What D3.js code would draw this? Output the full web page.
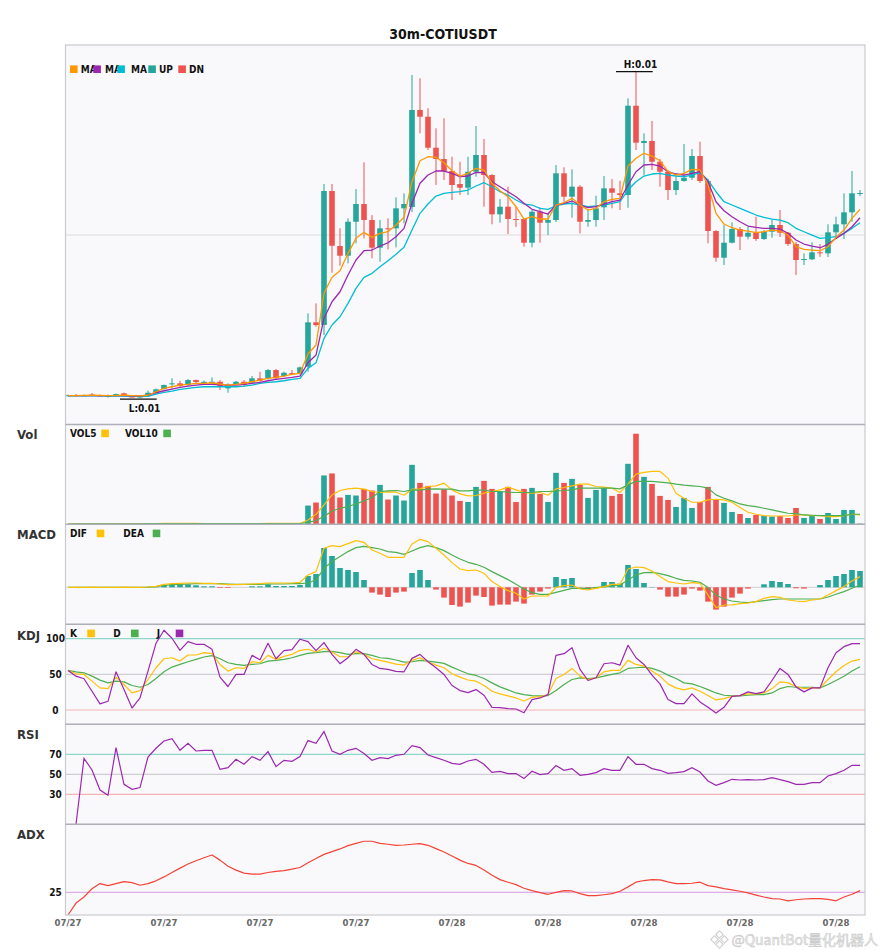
<!DOCTYPE html>
<html><head><meta charset="utf-8">
<script src="https://cdn.jsdelivr.net/npm/d3@7"></script>
<style>
body{margin:0;background:#fff;}
svg{display:block;font-family:"DejaVu Sans Condensed","DejaVu Sans",sans-serif;font-stretch:condensed;}
</style>
</head><body>
<svg id="c" width="885" height="950"></svg>
<script>
// ---------------- data (30m candles, 100 bars) ----------------
const openP = [0.006495,0.006500,0.006495,0.006505,0.006495,0.006483,0.006497,0.006517,0.006485,0.006483,
0.006490,0.006523,0.006560,0.006610,0.006617,0.006600,0.006650,0.006617,0.006617,0.006633,
0.006567,0.006610,0.006633,0.006623,0.006667,0.006667,0.006750,0.006690,0.006720,0.006717,
0.006783,0.007227,0.007200,0.008540,0.007990,0.007893,0.008233,0.008410,0.008250,0.007973,
0.008167,0.008167,0.008367,0.008380,0.009350,0.009283,0.008973,0.008860,0.008740,0.008610,
0.008573,0.008733,0.008900,0.008700,0.008307,0.008383,0.008260,0.008260,0.008023,0.008333,
0.008223,0.008250,0.008717,0.008483,0.008583,0.008233,0.008250,0.008377,0.008567,0.008517,
0.008500,0.009393,0.009020,0.009040,0.008833,0.008733,0.008550,0.008640,0.008673,0.008890,
0.008640,0.008140,0.007873,0.008023,0.008160,0.008083,0.008123,0.008060,0.008133,0.008200,
0.008123,0.008010,0.007850,0.007857,0.007927,0.007917,0.008127,0.008207,0.008327,0.008513];
const highP = [0.006505,0.006510,0.006505,0.006520,0.006505,0.006505,0.006515,0.006525,0.006490,0.006490,
0.006543,0.006565,0.006605,0.006667,0.006643,0.006660,0.006655,0.006645,0.006677,0.006650,
0.006617,0.006640,0.006650,0.006690,0.006733,0.006760,0.006760,0.006733,0.006750,0.006785,
0.007317,0.007417,0.008610,0.008610,0.008167,0.008267,0.008560,0.008827,0.008300,0.008250,
0.008267,0.008477,0.008517,0.009700,0.009667,0.009367,0.009167,0.009267,0.008883,0.008833,
0.008883,0.009190,0.009060,0.008710,0.008460,0.008583,0.008380,0.008270,0.008350,0.008377,
0.008317,0.008800,0.008777,0.008757,0.008600,0.008357,0.008493,0.008690,0.008660,0.008643,
0.009467,0.009733,0.009117,0.009240,0.008860,0.008750,0.008717,0.009010,0.008960,0.009033,
0.008660,0.008150,0.008200,0.008227,0.008180,0.008183,0.008283,0.008150,0.008250,0.008350,
0.008130,0.008030,0.007917,0.008027,0.008010,0.008207,0.008283,0.008517,0.008740,0.008550];
const lowP = [0.006488,0.006490,0.006490,0.006490,0.006490,0.006475,0.006490,0.006490,0.006478,0.006468,
0.006480,0.006515,0.006555,0.006567,0.006583,0.006590,0.006617,0.006610,0.006610,0.006550,
0.006523,0.006600,0.006583,0.006615,0.006633,0.006655,0.006655,0.006683,0.006700,0.006705,
0.006733,0.007183,0.007100,0.007723,0.007793,0.007817,0.008017,0.008067,0.007867,0.007833,
0.007957,0.007977,0.008217,0.008330,0.009117,0.008950,0.008600,0.008650,0.008450,0.008500,
0.008500,0.008683,0.008383,0.008207,0.008223,0.008110,0.008180,0.007983,0.007977,0.008023,
0.008100,0.008230,0.008430,0.008273,0.008117,0.008183,0.008183,0.008250,0.008367,0.008350,
0.008373,0.008950,0.008700,0.008750,0.008583,0.008450,0.008500,0.008633,0.008650,0.008620,
0.008017,0.007833,0.007800,0.008017,0.007950,0.008057,0.008040,0.008050,0.008073,0.008080,
0.007990,0.007700,0.007800,0.007850,0.007880,0.007880,0.008060,0.008060,0.008233,0.008490];
const closeP = [0.006498,0.006495,0.006498,0.006495,0.006493,0.006500,0.006510,0.006497,0.006483,0.006485,
0.006523,0.006557,0.006600,0.006617,0.006590,0.006650,0.006630,0.006633,0.006633,0.006583,
0.006600,0.006633,0.006600,0.006667,0.006643,0.006750,0.006667,0.006723,0.006713,0.006777,
0.007227,0.007200,0.008540,0.007993,0.007893,0.008233,0.008410,0.008250,0.007973,0.008167,
0.008157,0.008367,0.008410,0.009350,0.009283,0.008973,0.008860,0.008740,0.008600,0.008573,
0.008733,0.008900,0.008700,0.008307,0.008383,0.008260,0.008250,0.008023,0.008333,0.008223,
0.008250,0.008717,0.008483,0.008583,0.008233,0.008250,0.008367,0.008567,0.008523,0.008500,
0.009393,0.009023,0.009040,0.008833,0.008733,0.008550,0.008640,0.008673,0.008890,0.008640,
0.008140,0.007873,0.008023,0.008160,0.008083,0.008123,0.008060,0.008133,0.008200,0.008123,
0.008010,0.007850,0.007860,0.007927,0.007917,0.008127,0.008207,0.008327,0.008517,0.008520];

const maFast = [0.006495,0.006495,0.006496,0.006498,0.006497,0.006495,0.006496,0.006499,0.006495,0.006492,
0.006498,0.006533,0.006567,0.006583,0.006600,0.006607,0.006617,0.006617,0.006623,0.006610,
0.006600,0.006607,0.006617,0.006633,0.006650,0.006667,0.006677,0.006690,0.006707,0.006717,
0.006910,0.007000,0.007517,0.007677,0.007743,0.007917,0.008067,0.008127,0.008077,0.008117,
0.008133,0.008200,0.008277,0.008633,0.008843,0.008883,0.008877,0.008823,0.008743,0.008690,
0.008717,0.008767,0.008750,0.008617,0.008543,0.008483,0.008383,0.008260,0.008283,0.008260,
0.008260,0.008400,0.008423,0.008467,0.008400,0.008350,0.008367,0.008433,0.008457,0.008467,
0.008790,0.008867,0.008917,0.008890,0.008843,0.008733,0.008700,0.008717,0.008757,0.008750,
0.008600,0.008317,0.008210,0.008173,0.008150,0.008140,0.008123,0.008133,0.008150,0.008140,
0.008100,0.007983,0.007957,0.007950,0.007943,0.007983,0.008077,0.008150,0.008267,0.008357];
const maMid = [0.006495,0.006494,0.006494,0.006495,0.006495,0.006494,0.006494,0.006495,0.006493,0.006491,
0.006500,0.006523,0.006543,0.006560,0.006577,0.006590,0.006600,0.006607,0.006607,0.006603,
0.006600,0.006600,0.006607,0.006617,0.006627,0.006643,0.006657,0.006667,0.006677,0.006690,
0.006823,0.006900,0.007267,0.007433,0.007533,0.007700,0.007850,0.007943,0.007950,0.007990,
0.008023,0.008083,0.008167,0.008417,0.008617,0.008700,0.008740,0.008740,0.008717,0.008683,
0.008690,0.008727,0.008723,0.008633,0.008583,0.008533,0.008483,0.008417,0.008357,0.008333,
0.008310,0.008400,0.008417,0.008440,0.008400,0.008373,0.008383,0.008410,0.008433,0.008450,
0.008600,0.008733,0.008800,0.008807,0.008790,0.008733,0.008710,0.008700,0.008717,0.008733,
0.008633,0.008433,0.008343,0.008283,0.008233,0.008190,0.008177,0.008167,0.008167,0.008160,
0.008117,0.008050,0.008010,0.007990,0.007973,0.008007,0.008067,0.008117,0.008183,0.008273];
const maSlow = [0.006493,0.006492,0.006491,0.006492,0.006491,0.006490,0.006490,0.006490,0.006488,0.006486,
0.006487,0.006510,0.006527,0.006540,0.006557,0.006567,0.006577,0.006583,0.006583,0.006583,
0.006583,0.006583,0.006590,0.006600,0.006617,0.006627,0.006633,0.006643,0.006657,0.006667,
0.006767,0.006823,0.007067,0.007200,0.007283,0.007417,0.007567,0.007677,0.007717,0.007783,
0.007843,0.007907,0.007977,0.008150,0.008317,0.008410,0.008490,0.008517,0.008527,0.008533,
0.008550,0.008590,0.008623,0.008583,0.008533,0.008500,0.008450,0.008410,0.008400,0.008367,
0.008357,0.008393,0.008410,0.008417,0.008400,0.008383,0.008390,0.008400,0.008417,0.008433,
0.008550,0.008633,0.008690,0.008710,0.008717,0.008700,0.008690,0.008683,0.008700,0.008723,
0.008650,0.008533,0.008433,0.008400,0.008367,0.008333,0.008300,0.008277,0.008260,0.008250,
0.008223,0.008167,0.008133,0.008100,0.008067,0.008073,0.008083,0.008117,0.008167,0.008223];

// volume in thousands
const volume = [30,50,20,60,40,80,50,70,60,40,
120,90,110,100,80,90,60,50,70,90,
80,60,70,90,100,110,90,70,60,100,
1870,2170,4870,5070,2670,2930,2870,3530,3370,3930,
2470,2870,2370,5930,4130,3830,3070,3500,2870,2330,
2230,3730,4330,3530,3270,3730,2230,3530,3630,3030,
2230,5130,4130,4530,3930,2630,3430,3630,2830,3030,
6030,9030,4730,4030,2830,2430,1730,2630,1630,2230,
3730,2430,2130,1230,1030,630,930,830,770,830,
630,1630,630,830,530,1130,530,1430,1430,70];
const vol5 = [30,40,33,40,40,50,50,58,60,60,
66,78,84,94,100,94,88,76,70,72,
70,74,74,78,80,86,92,92,84,86,
430,1000,1930,2930,3370,3530,3600,3500,3270,3170,
3230,3200,2900,3500,3530,3770,3830,4100,3430,3030,
2830,2870,3100,3270,3430,3700,3430,3170,3100,3170,
2900,3530,3670,3830,4000,4000,3770,3700,3600,3170,
4000,5000,5170,5270,5270,4600,3100,2600,2200,2200,
2430,2500,2430,2200,1670,1200,1000,870,830,830,
830,930,930,870,870,770,770,870,1000,930];
const vol10 = [30,40,33,40,40,47,47,50,53,50,
59,63,69,73,77,78,79,77,78,80,
76,73,72,71,73,75,78,80,77,79,
200,380,770,1330,1600,1770,2030,2330,2670,3270,
3330,3370,3270,3430,3400,3500,3530,3500,3500,3330,
3330,3400,3400,3270,3270,3200,3170,3170,3170,3270,
3270,3330,3370,3430,3600,3600,3600,3600,3600,3530,
3930,4270,4270,4270,4200,4130,4000,3900,3830,3770,
3600,2930,2600,2330,2030,1870,1770,1600,1430,1270,
1100,1070,930,900,870,870,870,870,1000,1000];

// MACD (scaled, x1e-6)
const dif = [0,0,0,0.1,0,-0.1,0,0.1,0,-0.1,
0.3,1,3,3.7,4,4.3,4.3,4,4,3.3,
2.7,2.7,3,3.3,3.7,4.3,4.3,4.3,4.3,5,
12.3,15.7,39,41.7,40.7,43.7,46.7,45,37.3,34,
30,30,30,43.3,48,45.7,39,32.3,24.7,18.3,
16.7,17.3,14,5.7,0.7,-3.3,-6,-11.7,-8.7,-8.7,
-8.7,0,1.7,2.3,-1.7,-2.7,-1,0.7,3,3,
18.3,20.3,19.7,16.3,10.7,5.7,4.3,3.3,4.7,4,
-7.7,-20.3,-17.7,-17.7,-16.3,-15.7,-14.3,-11,-9.3,-10,
-12.7,-13.7,-14.3,-12.7,-11.7,-7.7,-3.3,0.7,6.3,10.7];
const dea = [0,0,0,0,0,0,0,0,0,0,
0.1,0.7,2,2.7,3,3.3,3.7,3.7,3.7,3.7,
3.3,3,3,3,3,3.3,3.3,3.3,3.7,3.7,
4.3,7.3,19,25.7,30.7,35.7,39.7,41,39.7,38.3,
35.7,35,33,36.3,39.7,41.7,39.7,36.7,32.3,28.3,
25,23,20,15.7,11.7,7.7,3,-1.7,-5.3,-7,
-7,-5,-3,-1,-1,-1,-0.3,0.7,1.3,2.3,
7.3,12.3,14.7,15,13.7,11.7,9,7,6.3,5,
-0.3,-7.7,-11.7,-13.7,-14.7,-15.3,-14.3,-13.3,-12.3,-11.7,
-11.7,-11.7,-11.7,-11.7,-11.7,-9.7,-7,-4.3,-1,2.3];
const macdHist = [0,0,0,0.2,0,-0.2,0,0.2,0,-0.2,
0.4,1.3,2.3,3,3,3,2,1,1,-0.7,
-0.7,0,0,1,1,3,1.3,1.3,1.3,2.3,
11.3,13.3,39.3,31.3,19.3,17.3,15.3,7.3,-5.3,-7.3,
-9.7,-5.3,-4.3,14.3,17.3,7.3,-2.3,-10.3,-17.7,-19.3,
-15.3,-8.3,-9.7,-18.3,-17.3,-17.3,-14.3,-16.3,-7.3,-4.3,
-1.3,10.3,8.3,9.3,-0.3,-2,-1,5.3,5.3,3.7,
22.3,18.3,4.3,0.3,-2.3,-9.3,-9.3,-7.3,-1.3,-3.3,
-14.3,-22.3,-19.3,-10.3,-6.3,-1.3,0,3,6.3,5.3,
3.3,-1,-1.3,0,2.3,7.3,11.3,13.3,17.3,16.3];

const kLine = [55.4,50.7,49.8,40.4,31,30,46,35.7,23.9,27.2,
42.7,59.2,71.8,73.2,68.5,77,77,80.3,78.9,63.8,
54.5,59.2,58.2,67.6,66.2,76.5,70.9,75.1,77.9,83.6,
85,81.2,86.4,81.2,74.6,74.6,81.7,77.9,71.8,69.5,
67.1,64.3,62.9,69.5,73.2,67.6,62.9,59.2,50.7,46,
42,40.4,34.3,26.3,22.5,19.7,16.9,12.7,17.8,18.8,
21.6,44.1,49.8,58.2,47.4,42.7,45.1,53.5,55.4,55.4,
69.5,63.8,61.5,54.5,47.4,36.6,31,28.2,31,26.3,
20.2,14.1,16,19.2,20.7,22.5,22.5,23.9,30,39.4,
38,32.9,30,31,31,42.7,53.5,62.4,68.5,70.9];
const dLine = [55.4,53.5,52.1,47.4,41.8,38,40.4,39.4,34.3,31.9,
35.7,44.1,53.5,60.1,63.8,67.6,70.9,74.2,76.1,71.8,
66.2,63.8,62.4,63.8,64.8,68.5,69.5,70.9,73.2,76.5,
79.3,80.3,81.7,82.2,80.3,77.9,78.9,78.9,76.5,73.2,
72.3,70,67.1,67.6,69.5,68.5,67.1,65.3,60.1,55.4,
50.7,48.4,44.1,38,32.4,28.2,23.9,21.6,20.2,19.7,
20.2,27.2,35.7,42.7,45.1,44.1,45.1,47.4,49.8,52.1,
58.2,59.2,60.1,58.2,54.5,48.8,44.1,38,36.6,32.9,
28.6,23.9,20.7,19.7,19.7,20.7,21.6,21.6,23.9,30,
32.9,31.9,31.9,31.9,31,35.7,41.3,47.4,54.5,60.6];
const jLine = [55.4,47.4,43.7,26.3,8.5,12.2,53.5,28.6,2.8,16.9,
54.5,93.4,111.7,100.5,83.6,95.8,92,92,85,46,
32.9,49.8,49.8,76.5,70.4,93.4,71.8,83.1,84.5,99.1,
95.8,83.1,94.4,77.9,64.8,73.2,85,77.9,63.8,58.2,
56.8,54,53.5,72.3,77.9,67.6,59.2,49.8,34.3,27.2,
24.4,28.6,20.7,3.8,3.3,1.9,1.4,-3.8,14.6,16.9,
21.6,76.5,78.9,87.3,56.8,41.3,45.1,64.8,66.2,62.9,
90.6,73.2,63.8,48.8,36.6,14.6,8.9,8.9,22.5,11.3,
3.8,-4.2,3.8,19.2,20.2,25.4,23,25.4,41.3,58.2,
49.8,32.4,25.4,31,31,59.2,80.3,88.7,93,93];
const rsi = [null,0,66,54.3,34.3,29,76.7,40,35,36.7,
67.3,76,83.3,85.7,74,81,73.3,74,74,55,
56.7,65,60,67.7,64,72.7,57.7,64,63,67.7,
83.7,81,92.7,73.3,70,74,76,70.7,64,66.7,
65.7,69,70,78.7,76.7,69.3,66.7,64,61,60,
63.3,65,60,52,53,50.7,50.7,45.7,53,49.7,
50.7,58.7,54,55.7,49,50,51.7,55.7,54,54,
67.7,60,60,55.7,54,51,51.7,52.7,56.7,52.3,
43.3,39,41.7,45,44.3,44.7,44.3,44.7,46.7,44.7,
42.7,40,40,41.7,41.7,48.3,50.7,54,59,59];
const adx = [10,17.9,21.9,27.4,30.8,29.4,30.8,32.1,31.4,29.7,
30.8,32.6,35.2,38.1,41,43.7,45.9,47.9,49.7,46.3,
42.3,39.7,37.7,37,37,38.1,38.8,39.4,40.3,41.4,
44.6,47.4,50.1,51.9,53.7,55.9,57.4,58.8,58.8,57.4,
56.8,56.1,56.3,56.8,57.2,56.1,53.9,51.7,49,46.3,
44.1,42.8,39.7,36.3,33.4,31.7,30.1,27.7,26.1,24.8,
23.7,25,26.1,25.9,24.1,22.8,22.8,23.4,24.1,25.7,
28.6,31.7,32.8,33.4,33.2,31.9,30.8,30.8,31,31.7,
29.4,28.6,27.4,26.6,25.7,24.6,23.2,21.9,20.8,20.6,
19.4,20.1,20.6,20.8,20.8,20.3,19.4,21.9,23.7,26.1];

const xTickIdx = [0,12,24,36,48,60,72,84,96];
const xTickLabels = ["07/27","07/27","07/27","07/27","07/28","07/28","07/28","07/28","07/28"];
const panelNames = ["Vol","MACD","KDJ","RSI","ADX"];
const kdjTicks = [100,50,0];
const rsiTicks = [70,50,30];
const adxTicks = [25];

// ---------------- drawing ----------------
const UP="#26a69a", DN="#ef5350";
const svg=d3.select("#c");
const idx=d3.range(openP.length);
const L=65.5, R=865;
const x=d3.scaleBand().domain(idx).range([64,864]).paddingInner(0.3).paddingOuter(0.15);
const cx=i=>x(i)+x.bandwidth()/2;
const bw=x.bandwidth();

const P={main:[45,424.5],vol:[424.5,524.3],macd:[524.3,624.3],kdj:[624.3,724.3],rsi:[724.3,824.3],adx:[824.3,915]};

svg.append("rect").attr("x",L).attr("y",45).attr("width",R-L).attr("height",915-45).attr("fill","#f9f9fb");

const yMain=d3.scaleLinear().domain([0.0062055,0.01]).range([P.main[1],P.main[0]]);
const yVol=d3.scaleLinear().domain([0,9950]).range([P.vol[1],P.vol[0]]);
const yMacd=d3.scaleLinear().domain([-37,63]).range([P.macd[1],P.macd[0]]);
const yKdj=d3.scaleLinear().domain([-20,120]).range([P.kdj[1],P.kdj[0]]);
const yRsi=d3.scaleLinear().domain([0,100]).range([P.rsi[1],P.rsi[0]]);
const yAdx=d3.scaleLinear().domain([10,70]).range([P.adx[1],P.adx[0]]);

function hline(y,color,w){svg.append("line").attr("x1",L).attr("x2",R).attr("y1",y).attr("y2",y).attr("stroke",color).attr("stroke-width",w||1);}

// guide lines
hline(yMain(0.0081),"#dcdce0",1);
hline(yMacd(0),"#d0d0d4",1);
const guideCol={hi:"#8fd6cb",mid:"#cfcfd3",lo:"#f6b3b3"};
kdjTicks.forEach((t,k)=>hline(yKdj(t),[guideCol.hi,guideCol.mid,guideCol.lo][k],1.2));
rsiTicks.forEach((t,k)=>hline(yRsi(t),[guideCol.hi,guideCol.mid,guideCol.lo][k],1.2));
adxTicks.forEach(t=>hline(yAdx(t),"#ddaee6",1.2));

const isUp=i=>closeP[i]>=openP[i];

// candles
const cg=svg.append("g");
idx.forEach(i=>{
  const c=isUp(i)?UP:DN;
  cg.append("line").attr("x1",cx(i)).attr("x2",cx(i)).attr("y1",yMain(highP[i])).attr("y2",yMain(lowP[i])).attr("stroke",c).attr("stroke-width",1);
  const y1=yMain(Math.max(openP[i],closeP[i])), y2=yMain(Math.min(openP[i],closeP[i]));
  cg.append("rect").attr("x",x(i)).attr("width",bw).attr("y",y1).attr("height",Math.max(1,y2-y1)).attr("fill",c);
});

const lineOf=(ys)=>d3.line().defined(d=>d!=null).x((d,i)=>cx(i)).y(d=>ys(d));
function path(data,ys,color,w){svg.append("path").datum(data).attr("d",lineOf(ys)).attr("fill","none").attr("stroke",color).attr("stroke-width",w||1.2).attr("stroke-linejoin","round");}

path(maSlow,yMain,"#00bcd4",1.3);
path(maMid,yMain,"#9c27b0",1.3);
path(maFast,yMain,"#ff9800",1.3);

// high / low markers
const hi=d3.maxIndex(highP), lo=d3.minIndex(lowP);
const fmt=d3.format(".2f");
function marker(i,y,label,ty){
  svg.append("line").attr("x1",cx(i)-20).attr("x2",cx(i)+16.7).attr("y1",y).attr("y2",y).attr("stroke","#111").attr("stroke-width",1.3);
  svg.append("text").attr("x",cx(i)+4.5).attr("y",ty).attr("text-anchor","middle").attr("font-size",10).attr("font-weight","bold").attr("fill","#111").text(label);
}
marker(hi,yMain(highP[hi]),"H:"+fmt(highP[hi]),yMain(highP[hi])-4);
marker(lo,yMain(lowP[lo])+0.8,"L:"+fmt(lowP[lo]),yMain(lowP[lo])+13.5);

// volume
idx.forEach(i=>{
  svg.append("rect").attr("x",x(i)).attr("width",bw).attr("y",yVol(volume[i])).attr("height",yVol(0)-yVol(volume[i])).attr("fill",isUp(i)?UP:DN);
});
path(vol5,yVol,"#ffc107",1.2);
path(vol10,yVol,"#4caf50",1.2);

// macd
idx.forEach(i=>{
  const v=macdHist[i]; if(!v) return;
  const a=yMacd(Math.max(0,v)), b=yMacd(Math.min(0,v));
  svg.append("rect").attr("x",x(i)).attr("width",bw).attr("y",a).attr("height",b-a).attr("fill",v>0?UP:DN);
});
path(dea,yMacd,"#4caf50",1.2);
path(dif,yMacd,"#ffc107",1.2);

// kdj
path(dLine,yKdj,"#4caf50",1.2);
path(kLine,yKdj,"#ffc107",1.2);
path(jLine,yKdj,"#9c27b0",1.2);

// rsi
svg.append("defs").append("clipPath").attr("id","rsiclip").append("rect").attr("x",L).attr("y",P.rsi[0]).attr("width",R-L).attr("height",P.rsi[1]-P.rsi[0]+4);
svg.append("path").datum(rsi).attr("d",lineOf(yRsi)).attr("fill","none").attr("stroke","#9c27b0").attr("stroke-width",1.2).attr("clip-path","url(#rsiclip)");

// adx
path(adx,yAdx,"#f44336",1.2);

// frame
const frameCol="#c9c9d0";
svg.append("rect").attr("x",L).attr("y",45).attr("width",R-L).attr("height",915-45).attr("fill","none").attr("stroke",frameCol).attr("stroke-width",1.2);
[P.vol[0],P.macd[0],P.kdj[0],P.rsi[0],P.adx[0]].forEach(y=>hline(y,"#aeaeb6",1.4));

// y tick labels
function ylab(v,ys){svg.append("text").attr("x",55.5).attr("y",ys(v)+3.5).attr("text-anchor","middle").attr("font-size",10).attr("font-weight","bold").attr("fill","#111").text(v);}
kdjTicks.forEach(v=>ylab(v,yKdj));
rsiTicks.forEach(v=>ylab(v,yRsi));
adxTicks.forEach(v=>ylab(v,yAdx));

// panel names
const nameY=[438.8,538.8,639.5,738.7,839];
panelNames.forEach((n,k)=>svg.append("text").attr("x",17).attr("y",nameY[k]).attr("font-size",13).attr("font-weight","bold").attr("fill","#333").text(n));

// legends
function legend(items,base){
  items.forEach(d=>svg.append("text").attr("x",d.tx).attr("y",base).attr("font-size",10).attr("font-weight","bold").attr("fill","#111").text(d.t));
  items.forEach(d=>svg.append("rect").attr("x",d.sx).attr("y",base-7.2).attr("width",7.6).attr("height",7.6).attr("fill",d.c));
}
legend([{t:"MA",c:"#ff9800",sx:70,tx:80.7},{t:"MA",c:"#9c27b0",sx:93.3,tx:105},{t:"MA",c:"#00bcd4",sx:117.3,tx:131},{t:"UP",c:UP,sx:148.3,tx:159},{t:"DN",c:DN,sx:178.3,tx:189}],72.6);
legend([{t:"VOL5",c:"#ffc107",sx:101.3,tx:70},{t:"VOL10",c:"#4caf50",sx:163.3,tx:125}],436.8);
legend([{t:"DIF",c:"#ffc107",sx:96.7,tx:70},{t:"DEA",c:"#4caf50",sx:152.7,tx:123.3}],536.8);
legend([{t:"K",c:"#ffc107",sx:87.3,tx:70},{t:"D",c:"#4caf50",sx:131,tx:113.3},{t:"J",c:"#9c27b0",sx:175.7,tx:156.7}],636.8);

// x axis labels
xTickIdx.forEach((i,k)=>svg.append("text").attr("x",cx(i)).attr("y",925.5).attr("text-anchor","middle").attr("font-size",9.5).attr("font-weight","bold").attr("fill","#666").text(xTickLabels[k]));

// title
svg.append("text").attr("x",443).attr("y",39).attr("text-anchor","middle").attr("font-size",14).attr("font-weight","bold").attr("fill","#111").text("30m-COTIUSDT");

// watermark (placed just below the axis labels so it does not cover them)
const wm=svg.append("g").attr("opacity",0.6);
const wmText=wm.append("text").attr("x",878).attr("y",945).attr("text-anchor","end").attr("font-family","'Noto Sans CJK SC','DejaVu Sans',sans-serif").attr("font-size",14).attr("fill","#e4e4e4").attr("stroke","#aaaaaa").attr("stroke-width",0.6).text("@QuantBot量化机器人");
const wmBox=wmText.node().getBBox();
const lx=wmBox.x-12, ly=939.5;
[[0,-5],[-5,0],[5,0],[0,5]].forEach(p=>wm.append("rect").attr("x",lx+p[0]-2.6).attr("y",ly+p[1]-2.6).attr("width",5.2).attr("height",5.2).attr("transform",`rotate(45,${lx+p[0]},${ly+p[1]})`).attr("fill","none").attr("stroke","#b0b0b0").attr("stroke-width",1.1));
</script>
</body></html>
